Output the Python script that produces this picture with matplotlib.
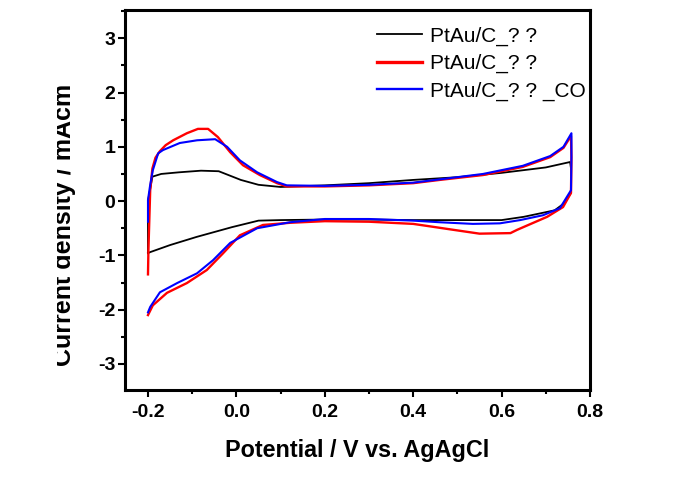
import matplotlib
matplotlib.use("Agg")
import matplotlib.pyplot as plt
from matplotlib.ticker import MultipleLocator
from matplotlib.transforms import Bbox, TransformedBbox

# CV curves (potential V, current density mA/cm2)
black_x = [-0.2, -0.2, -0.19, -0.17, -0.13, -0.08, -0.04, 0.01, 0.05, 0.1, 0.2, 0.3, 0.4, 0.5, 0.6,
           0.7, 0.755, 0.757, 0.757, 0.74, 0.72, 0.65, 0.6, 0.5, 0.4, 0.3, 0.2, 0.1, 0.05, -0.01,
           -0.09, -0.15, -0.195, -0.2]
black_y = [-0.96, 0.0, 0.45, 0.5, 0.53, 0.56, 0.55, 0.39, 0.3, 0.26, 0.29, 0.33, 0.39, 0.44, 0.52,
           0.62, 0.72, 0.6, 0.15, -0.05, -0.17, -0.29, -0.35, -0.35, -0.35, -0.34, -0.34, -0.35,
           -0.36, -0.48, -0.66, -0.81, -0.94, -0.96]

red_x = [-0.2, -0.199, -0.195, -0.19, -0.183, -0.173, -0.16, -0.143, -0.112, -0.087, -0.064,
         -0.042, -0.014, 0.015, 0.053, 0.092, 0.114, 0.2, 0.3, 0.4, 0.46, 0.558, 0.648, 0.71,
         0.74, 0.757, 0.758, 0.757, 0.739, 0.703, 0.635, 0.62, 0.55, 0.483, 0.45, 0.4, 0.3, 0.2,
         0.121, 0.06, 0.008, -0.03, -0.067, -0.112, -0.157, -0.189, -0.2]
red_y = [-1.35, -0.9, 0.2, 0.6, 0.8, 0.92, 1.03, 1.12, 1.25, 1.33, 1.33, 1.18, 0.9, 0.66, 0.48,
         0.33, 0.27, 0.27, 0.29, 0.33, 0.39, 0.48, 0.63, 0.81, 0.98, 1.2, 0.8, 0.15, -0.11, -0.29,
         -0.53, -0.59, -0.6, -0.52, -0.48, -0.42, -0.38, -0.37, -0.4, -0.44, -0.63, -0.96, -1.27,
         -1.51, -1.69, -1.92, -2.1]

blue_x = [-0.2, -0.2, -0.195, -0.189, -0.177, -0.166, -0.128, -0.089, -0.048, -0.021, 0.008,
          0.047, 0.092, 0.114, 0.2, 0.3, 0.4, 0.46, 0.558, 0.648, 0.71, 0.74, 0.758, 0.758,
          0.757, 0.732, 0.694, 0.642, 0.596, 0.535, 0.46, 0.4, 0.3, 0.2, 0.121, 0.047, -0.014,
          -0.053, -0.089, -0.134, -0.173, -0.195, -0.2]
blue_y = [-0.38, 0.02, 0.3, 0.57, 0.88, 0.94, 1.07, 1.12, 1.14, 1.0, 0.75, 0.53, 0.35, 0.29,
          0.28, 0.3, 0.34, 0.4, 0.5, 0.65, 0.83, 1.0, 1.25, 0.8, 0.2, -0.13, -0.26, -0.35, -0.41,
          -0.42, -0.39, -0.36, -0.33, -0.33, -0.39, -0.5, -0.77, -1.09, -1.33, -1.51, -1.68,
          -1.95, -2.05]

labels = ["PtAu/C_? ?", "PtAu/C_? ?", "PtAu/C_? ? _CO"]

plt.rcParams['font.family'] = ['Liberation Sans', 'DejaVu Sans']
plt.rcParams['axes.unicode_minus'] = False

fig = plt.figure(figsize=(6.82, 4.99), dpi=100)
ax = fig.add_axes([125/682, 109/499, 465/682, 380/499])

ax.plot(black_x, black_y, color='black', lw=1.3, label=labels[0])
ax.plot(red_x, red_y, color='red', lw=1.7, label=labels[1])
ax.plot(blue_x, blue_y, color='blue', lw=1.5, label=labels[2])

ax.set_xlim(-0.252, 0.8)
ax.set_ylim(-3.48, 3.52)
ax.xaxis.set_major_locator(MultipleLocator(0.2))
ax.xaxis.set_minor_locator(MultipleLocator(0.1))
ax.yaxis.set_major_locator(MultipleLocator(1))
ax.yaxis.set_minor_locator(MultipleLocator(0.5))
ax.set_xticks([-0.2, 0.0, 0.2, 0.4, 0.6, 0.8])
ax.set_yticks([-3, -2, -1, 0, 1, 2, 3])

for s in ax.spines.values():
    s.set_linewidth(2.2)
ax.tick_params(which='major', direction='out', length=5, width=1.5, labelsize=14, pad=2)
ax.tick_params(which='minor', direction='out', length=3, width=1.5)
ax.tick_params(axis='x', which='major', pad=5)
for lab in ax.get_xticklabels() + ax.get_yticklabels():
    lab.set_fontweight('bold')

ax.set_xlabel('Potential / V vs. AgAgCl', fontsize=16.8, fontweight='bold', labelpad=13)

# y label, cut off on the left as in the original
yl = fig.text(76/682, 1 - 225/499, 'Current density / mAcm', rotation=90,
              ha='right', va='center', fontsize=18, fontweight='bold')
yl.set_clip_box(TransformedBbox(Bbox([[57/682, 0], [1, 1]]), fig.transFigure))
yl.set_clip_on(True)

leg = ax.legend(loc='upper left', bbox_to_anchor=(0.542, 0.957), frameon=False,
                fontsize=15, borderpad=0, labelspacing=0.4, handlelength=2.16,
                handletextpad=0.38, borderaxespad=0)
for h, w in zip(leg.get_lines(), [1.3, 2.4, 1.7]):
    h.set_linewidth(w)

fig.savefig('out.png', dpi=100)
